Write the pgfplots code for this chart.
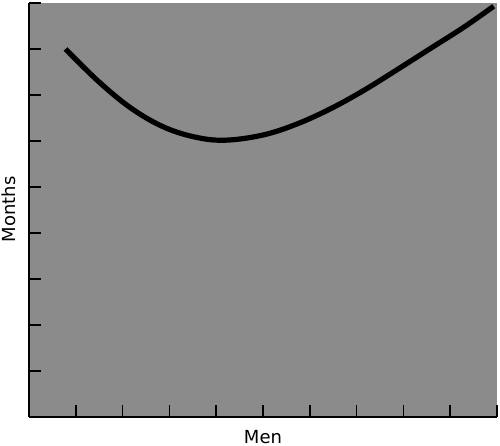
\documentclass[border=0pt]{standalone}
\usepackage{pgfplots}
\pgfplotsset{compat=1.18}
\usepackage{fontspec}
\setmainfont{DejaVu Sans}
\definecolor{bg}{RGB}{139,139,139}
\begin{document}
\begin{tikzpicture}
\begin{axis}[
  scale only axis,
  width=351pt, height=310.5pt,
  xmin=0, xmax=10, ymin=0, ymax=9,
  axis x line=bottom, axis y line=left,
  axis line style={-, line width=1.4pt, black},
  axis background/.style={fill=bg},
  xtick={1,2,3,4,5,6,7,8,9,10},
  ytick={1,2,3,4,5,6,7,8,9},
  xticklabels={}, yticklabels={},
  tick align=inside,
  major tick length=9pt,
  tick style={line width=1.2pt, black},
  xlabel={\fontsize{13.5pt}{16pt}\selectfont Men},
  ylabel={\fontsize{13.5pt}{16pt}\selectfont Months},
  xlabel style={at={(axis description cs:0.5,-0.0495)}, anchor=center, inner sep=0pt},
  ylabel style={at={(axis description cs:-0.0427,0.502)}, anchor=center, inner sep=0pt},
  clip=false,
]
\addplot[black, line width=3.9pt, smooth, tension=0.6, line cap=butt] coordinates {
(0.78,8.00) (1.49,7.29) (2.20,6.70) (2.91,6.29) (3.62,6.07) (4.25,6.02)
(5.04,6.14) (5.75,6.38) (6.46,6.71) (7.17,7.11) (7.88,7.56) (8.59,8.02)
(9.30,8.48) (9.93,8.93)
};
\end{axis}
\pgfresetboundingbox
\path (-21.75pt,-21.75pt) rectangle (353.25pt,312.75pt);
\end{tikzpicture}
\end{document}
